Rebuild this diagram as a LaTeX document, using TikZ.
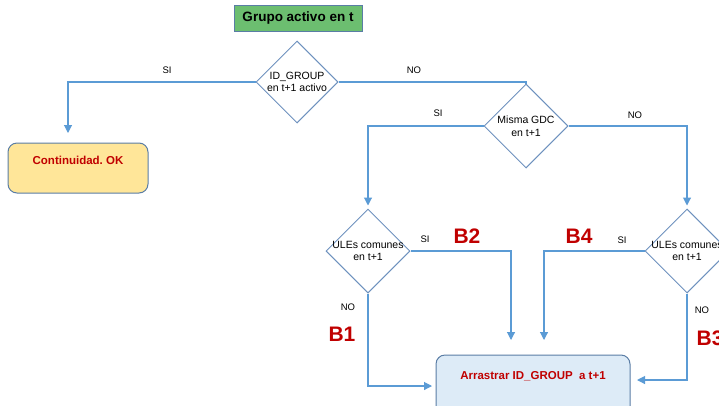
\documentclass[tikz,border=0pt]{standalone}
\usepackage{fontspec}
\setmainfont{Liberation Sans}
\usetikzlibrary{shapes.geometric,arrows.meta}
\definecolor{flowblue}{RGB}{91,155,213}
\definecolor{shapeedge}{RGB}{110,145,190}
\definecolor{boxedge}{RGB}{90,125,165}
\definecolor{startgreen}{RGB}{108,190,112}
\definecolor{okyellow}{RGB}{255,230,153}
\definecolor{dragblue}{RGB}{221,235,247}
\definecolor{tagred}{RGB}{192,0,0}

\begin{document}
\begin{tikzpicture}[x=1pt,y=-1pt,
    decision/.style={draw=shapeedge,line width=1pt,diamond,aspect=1,minimum width=84pt,minimum height=84pt,inner sep=-4pt,align=center,font=\fontsize{10.5}{12.5}\selectfont},
    flow/.style={draw=flowblue,line width=1.1pt,-{Triangle[width=8pt,length=8pt]}},
    link/.style={draw=flowblue,line width=1.1pt},
    answer/.style={font=\fontsize{9.5}{10}\selectfont},
    tag/.style={text=tagred,font=\bfseries\fontsize{21}{24}\selectfont},
    result/.style={draw=boxedge,line width=1pt,rounded corners=9pt,text=tagred,font=\bfseries\fontsize{11.5}{13}\selectfont}
]
\path[use as bounding box,clip] (0,0) rectangle (719,405);

\node[draw=boxedge,fill=startgreen,minimum width=128pt,minimum height=26pt,font=\bfseries\fontsize{13.5}{15}\selectfont] (start) at (298,18) {Grupo activo en t};
\node[decision,minimum width=82pt,minimum height=82pt] (active) at (297,82) {ID\_GROUP\\en t+1 activo};
\node[decision] (gdc) at (526,126) {Misma GDC\\en t+1};
\node[decision] (ulesA) at (368,251) {ULEs comunes\\en t+1};
\node[decision] (ulesB) at (687,251) {ULEs comunes\\en t+1};

\node[result,fill=okyellow,minimum width=140pt,inner ysep=13pt,text height=8pt,text depth=16pt] (ok) at (78,168) {Continuidad.\ OK};
\node[result,fill=dragblue,minimum width=194pt,inner ysep=16pt,text height=8pt,text depth=22pt] (drag) at (533,386) {Arrastrar ID\_GROUP\ \ a t+1};

% arrow ends
\coordinate (okend) at (68,133);
\coordinate (b1end) at (432,386);
\coordinate (b2end) at (511,340);
\coordinate (b4end) at (544,340);
\coordinate (b3end) at (637,380);

\draw[flow] (active.west) -| (okend);
\draw[link] (active.east) -| (gdc.north);
\draw[flow,shorten >=3pt] (gdc.west) -| (ulesA.north);
\draw[flow,shorten >=3pt] (gdc.east) -| (ulesB.north);
\draw[flow] (ulesA.east) -| (b2end);
\draw[flow] (ulesA.south) |- (b1end);
\draw[flow] (ulesB.west) -| (b4end);
\draw[flow] (ulesB.south) |- (b3end);

\node[answer] (si1) at (167,70) {SI};
\node[answer] (no1) at (414,70) {NO};
\node[answer] (si2) at (438,113) {SI};
\node[answer] (no2) at (635,115) {NO};
\node[answer] (si3) at (425,239) {SI};
\node[answer] (no3) at (348,307) {NO};
\node[answer] (si4) at (622,240) {SI};
\node[answer] (no4) at (702,310) {NO};

% branch tags
\node[tag] (tagB1) at (342,334) {B1};
\node[tag] (tagB2) at (467,236) {B2};
\node[tag] (tagB3) at (710,338) {B3};
\node[tag] (tagB4) at (579,236) {B4};
\end{tikzpicture}
\end{document}
